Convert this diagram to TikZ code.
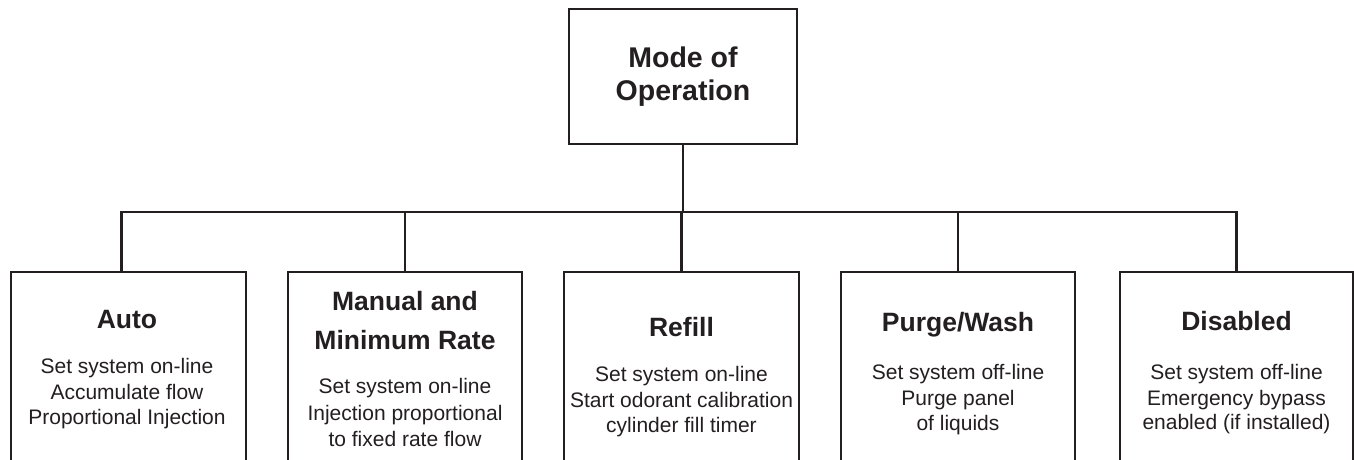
\documentclass[tikz,border=0pt]{standalone}
\usepackage{fontspec}
\setmainfont{Liberation Sans}
\definecolor{ink}{HTML}{231F20}
\tikzset{
  boxstyle/.style={draw=ink, line width=2.6pt, inner sep=0pt, fill=none},
  wire/.style={draw=ink, line width=2.3pt},
  toptitle/.style={font=\fontsize{28.5}{33}\selectfont\bfseries, text=ink, inner sep=0pt, anchor=base},
  modetitle/.style={font=\fontsize{26.5}{39}\selectfont\bfseries, text=ink, inner sep=0pt, anchor=base},
  bodytext/.style={font=\fontsize{21}{25.5}\selectfont, text=ink, inner sep=0pt, anchor=base}
}
\begin{document}
\begin{tikzpicture}[x=1pt, y=-1pt]
\clip (0,0) rectangle (1354,459);
\fill[white] (0,0) rectangle (1354,459);
% top box
\node[boxstyle, minimum width=228pt, minimum height=135pt] (top) at (683,76.5) {};
\node[toptitle] (t1) at (683,67) {Mode of};
\node[toptitle] (t2) at (683,100) {Operation};
% mode boxes (open at the bottom edge of the picture)
\node[boxstyle, minimum width=235pt, minimum height=200pt] (auto) at (128.5,372) {};
\node[boxstyle, minimum width=234pt, minimum height=200pt] (man) at (405,372) {};
\node[boxstyle, minimum width=235pt, minimum height=200pt] (ref) at (681.5,372) {};
\node[boxstyle, minimum width=234pt, minimum height=200pt] (pur) at (958,372) {};
\node[boxstyle, minimum width=233pt, minimum height=200pt] (dis) at (1236.5,372) {};
% bus
\coordinate (bus) at (0,212);
\coordinate (autodrop) at ([xshift=-7pt]auto.north);
\draw[wire] (top.south) -- (top.south |- bus);
\draw[wire] (autodrop) -- (autodrop |- bus) -- (dis.north |- bus) -- (dis.north);
\draw[wire] (man.north) -- (man.north |- bus);
\draw[wire] (ref.north) -- (ref.north |- bus);
\draw[wire] (pur.north) -- (pur.north |- bus);
% Auto
\node[modetitle] (a0) at (127,328) {Auto};
\node[bodytext] (a1) at (127,373) {Set system on-line};
\node[bodytext] (a2) at (127,399) {Accumulate flow};
\node[bodytext] (a3) at (127,424) {Proportional Injection};
% Manual
\node[modetitle] (m0) at (405,310) {Manual and};
\node[modetitle] (m0b) at (405,349) {Minimum Rate};
\node[bodytext] (m1) at (405,393) {Set system on-line};
\node[bodytext] (m2) at (405,420) {Injection proportional};
\node[bodytext] (m3) at (405,446) {to fixed rate flow};
% Refill
\node[modetitle] (r0) at (681.5,336) {Refill};
\node[bodytext] (r1) at (681.5,381) {Set system on-line};
\node[bodytext] (r2) at (681.5,407) {Start odorant calibration};
\node[bodytext] (r3) at (681.5,432) {cylinder fill timer};
% Purge/Wash
\node[modetitle] (p0) at (958,331) {Purge/Wash};
\node[bodytext] (p1) at (958,379) {Set system off-line};
\node[bodytext] (p2) at (958,405) {Purge panel};
\node[bodytext] (p3) at (958,430) {of liquids};
% Disabled
\node[modetitle] (d0) at (1236.5,330) {Disabled};
\node[bodytext] (d1) at (1236.5,379) {Set system off-line};
\node[bodytext] (d2) at (1236.5,405) {Emergency bypass};
\node[bodytext] (d3) at (1236.5,429) {enabled (if installed)};
\end{tikzpicture}
\end{document}
